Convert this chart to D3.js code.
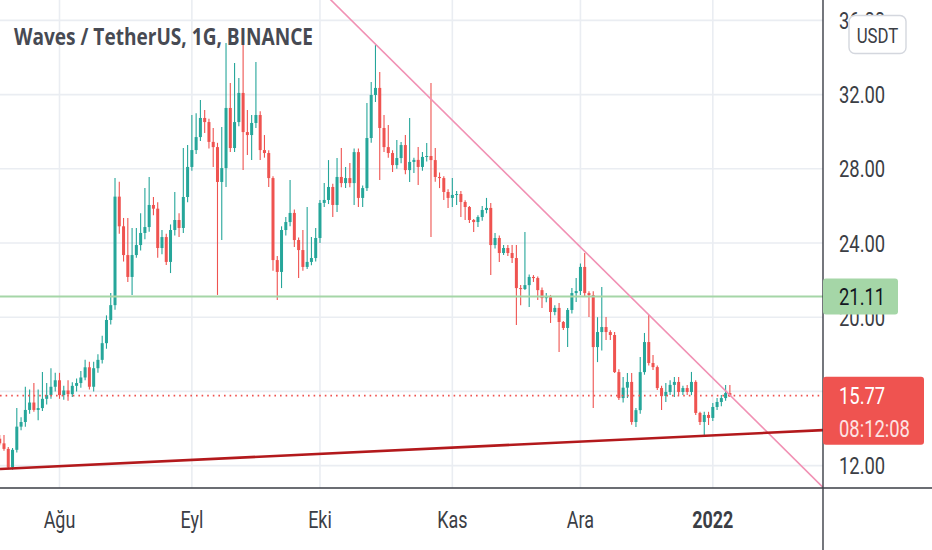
<!DOCTYPE html>
<html>
<head>
<meta charset="utf-8">
<script src="https://cdn.jsdelivr.net/npm/d3@7"></script>
<style>
  html, body { margin: 0; padding: 0; background: #ffffff; }
  svg { display: block; }
</style>
</head>
<body>
<div id="chart"></div>
<script>
// daily candles, Waves / TetherUS, starting 18 Jul 2021
const firstDay = "2021-07-18";
const opens = [
  13.45, 13.20, 12.90, 11.90, 12.85, 14.10, 14.35, 15.00, 15.40, 15.00, 15.10, 15.60, 15.80, 16.25,
  16.60, 15.80, 16.05, 15.85, 16.30, 16.45, 16.75, 17.30, 16.25, 17.25, 17.70, 18.60, 19.85, 20.65,
  26.50, 24.90, 23.35, 22.17, 23.35, 23.89, 24.54, 24.86, 26.05, 25.85, 23.73, 24.32, 22.98, 24.70,
  25.24, 24.81, 26.48, 28.10, 29.01, 29.71, 30.74, 30.52, 29.45, 29.17, 27.29, 28.04, 31.28, 29.12,
  30.52, 32.09, 29.98, 29.82, 30.47, 30.90, 29.01, 28.85, 27.50, 23.08, 22.44, 24.70, 25.13, 25.62,
  24.16, 23.62, 22.71, 22.98, 23.19, 24.27, 26.16, 26.32, 27.02, 26.05, 27.56, 27.23, 27.50, 27.23,
  28.90, 26.43, 26.96, 29.66, 31.98, 32.36, 30.20, 29.17, 28.85, 28.20, 28.58, 29.28, 27.93, 28.37,
  28.48, 28.10, 28.64, 28.69, 28.47, 27.56, 27.50, 26.75, 26.43, 26.59, 26.64, 26.21, 25.94, 25.24,
  25.13, 25.40, 25.78, 25.89, 23.89, 24.27, 23.46, 23.73, 23.46, 23.19, 21.57, 21.52, 21.73, 22.17,
  22.11, 21.46, 21.03, 21.08, 20.28, 20.50, 19.74, 19.42, 20.39, 21.30, 21.41, 22.71, 21.30, 21.19,
  18.39, 19.20, 19.47, 19.20, 19.04, 17.04, 15.64, 16.20, 16.51, 14.35, 14.99, 17.04, 18.66, 17.53,
  17.31, 16.18, 15.75, 15.97, 16.35, 16.51, 15.97, 16.18, 15.97, 16.51, 14.84, 14.35, 14.73, 14.57,
  15.16, 15.43, 15.64, 15.91
];
const highs = [
  13.65, 13.65, 13.00, 12.95, 15.10, 14.60, 16.25, 16.10, 16.45, 16.10, 17.05, 16.45, 17.25, 17.00,
  17.00, 16.30, 16.60, 16.50, 16.70, 17.10, 17.70, 17.60, 17.60, 18.00, 19.00, 20.10, 21.30, 27.50,
  27.30, 25.35, 25.35, 24.81, 24.81, 25.60, 26.96, 27.56, 26.48, 26.20, 24.70, 24.50, 25.00, 26.75,
  25.60, 29.12, 29.28, 30.90, 31.00, 31.71, 31.17, 30.70, 30.20, 29.40, 30.25, 34.78, 32.63, 33.70,
  32.90, 34.84, 31.17, 30.90, 33.76, 31.10, 29.82, 29.00, 27.60, 23.30, 24.90, 25.40, 27.40, 25.80,
  24.30, 24.70, 25.94, 24.32, 24.81, 26.32, 27.23, 28.47, 27.20, 28.58, 29.12, 28.10, 28.31, 29.10,
  29.10, 27.10, 31.55, 32.68, 34.67, 33.22, 30.90, 30.36, 29.00, 29.55, 29.44, 29.82, 30.74, 28.60,
  29.17, 28.90, 29.39, 32.63, 29.12, 27.80, 27.60, 26.90, 27.50, 26.80, 26.80, 26.30, 26.00, 25.30,
  25.50, 26.00, 26.43, 26.16, 24.54, 24.40, 23.89, 23.89, 23.89, 23.89, 21.73, 24.59, 22.30, 22.27,
  22.20, 21.60, 21.30, 21.20, 20.65, 20.77, 19.80, 20.50, 21.57, 22.11, 22.90, 23.46, 21.40, 21.40,
  20.00, 21.63, 20.01, 19.30, 19.20, 17.20, 16.78, 16.99, 16.99, 15.10, 17.85, 19.15, 20.12, 17.96,
  17.40, 16.30, 16.45, 16.60, 16.78, 16.78, 16.30, 16.35, 17.05, 16.60, 14.90, 14.90, 14.90, 15.37,
  15.64, 15.81, 16.35, 16.35
];
const lows = [
  13.10, 12.80, 11.80, 11.78, 12.70, 13.90, 14.10, 14.80, 14.90, 14.45, 14.95, 15.30, 15.60, 16.00,
  15.60, 15.55, 15.50, 15.70, 16.00, 16.20, 16.60, 16.10, 16.00, 17.00, 17.50, 18.30, 19.60, 20.40,
  24.50, 23.00, 21.90, 21.20, 23.20, 23.60, 24.20, 24.60, 25.50, 23.20, 23.40, 22.81, 22.38, 24.40,
  24.32, 24.54, 26.20, 27.90, 28.80, 29.50, 29.93, 29.10, 28.10, 21.20, 24.16, 27.02, 28.90, 28.90,
  30.30, 27.93, 28.74, 28.47, 30.20, 28.47, 28.60, 27.02, 22.50, 20.93, 21.57, 24.40, 24.90, 23.78,
  22.11, 22.50, 22.60, 22.80, 23.00, 24.00, 25.94, 26.10, 25.40, 25.67, 27.00, 26.96, 27.00, 26.05,
  25.94, 25.94, 26.80, 29.40, 31.60, 27.40, 28.90, 28.60, 27.83, 28.00, 28.30, 27.70, 27.29, 27.77,
  27.13, 27.90, 28.40, 24.32, 27.30, 26.96, 26.32, 25.89, 25.94, 26.05, 25.40, 25.24, 25.08, 24.59,
  24.86, 25.20, 25.60, 22.27, 23.70, 22.98, 23.35, 23.30, 22.92, 19.58, 20.65, 21.46, 20.55, 21.90,
  20.93, 20.50, 20.80, 19.69, 20.10, 18.12, 19.31, 18.39, 20.20, 20.82, 21.20, 21.10, 20.01, 15.11,
  17.58, 18.20, 18.77, 18.77, 16.99, 15.54, 15.40, 15.64, 14.20, 14.08, 14.80, 16.90, 17.40, 17.15,
  16.08, 15.00, 15.43, 15.80, 15.70, 15.80, 15.80, 15.81, 15.80, 14.73, 14.19, 13.65, 14.19, 14.40,
  15.00, 15.20, 15.50, 15.70
];
const closes = [
  13.20, 12.90, 11.90, 12.85, 14.10, 14.35, 15.00, 15.40, 15.00, 15.10, 15.60, 15.80, 16.25, 16.60,
  15.80, 16.05, 15.85, 16.30, 16.45, 16.75, 17.30, 16.25, 17.25, 17.70, 18.60, 19.85, 20.65, 26.50,
  24.90, 23.35, 22.17, 23.35, 23.89, 24.54, 24.86, 26.05, 25.85, 23.73, 24.32, 22.98, 24.70, 25.24,
  24.81, 26.48, 28.10, 29.01, 29.71, 30.74, 30.52, 29.45, 29.17, 27.29, 28.04, 31.28, 29.12, 30.52,
  32.09, 29.98, 29.82, 30.47, 30.90, 29.01, 28.85, 27.50, 23.08, 22.44, 24.70, 25.13, 25.62, 24.16,
  23.62, 22.71, 22.98, 23.19, 24.27, 26.16, 26.32, 27.02, 26.05, 27.56, 27.23, 27.50, 27.23, 28.90,
  26.43, 26.96, 29.66, 31.98, 32.36, 30.20, 29.17, 28.85, 28.20, 28.58, 29.28, 27.93, 28.37, 28.48,
  28.10, 28.64, 28.69, 28.47, 27.56, 27.50, 26.75, 26.43, 26.59, 26.64, 26.21, 25.94, 25.24, 25.13,
  25.40, 25.78, 25.89, 23.89, 24.27, 23.46, 23.73, 23.46, 23.19, 21.57, 21.52, 21.73, 22.17, 22.11,
  21.46, 21.03, 21.08, 20.28, 20.50, 19.74, 19.42, 20.39, 21.30, 21.41, 22.71, 21.30, 21.19, 18.39,
  19.20, 19.47, 19.20, 19.04, 17.04, 15.64, 16.20, 16.51, 14.35, 14.99, 17.04, 18.66, 17.53, 17.31,
  16.18, 15.75, 15.97, 16.35, 16.51, 15.97, 16.18, 15.97, 16.51, 14.84, 14.35, 14.73, 14.57, 15.16,
  15.43, 15.64, 15.91, 15.77
];

const priceTicks = [12, 16, 20, 24, 28, 32, 36];
const monthTicks = ["2021-08-01", "2021-09-01", "2021-10-01", "2021-11-01", "2021-12-01", "2022-01-01"];
const monthLabels = ["Ağu", "Eyl", "Eki", "Kas", "Ara", "2022"];

// drawn lines: support (dark red), resistance (pink), level, last price
const supportLine = [["2021-07-20", 11.84], ["2021-12-31", 13.62]];
const resistLine = [["2021-10-14", 34.72], ["2021-12-02", 23.55]];
const levelPrice = 21.11;
const lastPrice = 15.77;
const countdown = "08:12:08";

const width = 932, height = 550;
const plotW = 823, plotH = 488;
const up = "#26a69a", down = "#ef5350";

const parse = d3.utcParse("%Y-%m-%d");
const start = parse(firstDay);
const candles = closes.map((c, i) => ({
    date: d3.utcDay.offset(start, i),
    o: opens[i], h: highs[i], l: lows[i], c: c
}));

const x = d3.scaleUtc()
    .domain([parse("2021-08-01"), parse("2022-01-01")])
    .range([59.5, 712.8]);
const y = d3.scaleLinear()
    .domain([12, 32])
    .range([465.6, 94.6]);

const svg = d3.select("#chart").append("svg")
    .attr("width", width)
    .attr("height", height);

svg.append("defs").append("clipPath").attr("id", "plotClip")
    .append("rect").attr("width", plotW).attr("height", plotH);

// grid
const grid = svg.append("g");
grid.selectAll("line.h").data(priceTicks).join("line")
    .attr("x1", 0).attr("x2", plotW)
    .attr("y1", d => y(d)).attr("y2", d => y(d))
    .attr("stroke", "#eaedf2").attr("stroke-width", 1.6);
grid.selectAll("line.v").data(monthTicks).join("line")
    .attr("x1", d => x(parse(d))).attr("x2", d => x(parse(d)))
    .attr("y1", 0).attr("y2", plotH)
    .attr("stroke", "#eaedf2").attr("stroke-width", 1.6);

const plot = svg.append("g").attr("clip-path", "url(#plotClip)");

// candles
const bodyW = 3;
const cg = plot.append("g");
cg.selectAll("line").data(candles).join("line")
    .attr("x1", d => x(d.date)).attr("x2", d => x(d.date))
    .attr("y1", d => y(d.h)).attr("y2", d => y(d.l))
    .attr("stroke", d => d.c >= d.o ? up : down)
    .attr("stroke-width", 1.1);
cg.selectAll("rect").data(candles).join("rect")
    .attr("x", d => x(d.date) - bodyW / 2)
    .attr("width", bodyW)
    .attr("y", d => y(Math.max(d.o, d.c)))
    .attr("height", d => Math.max(1, Math.abs(y(d.o) - y(d.c))))
    .attr("fill", d => d.c >= d.o ? up : down);

// horizontal level and last price
plot.append("line")
    .attr("x1", 0).attr("x2", plotW)
    .attr("y1", y(levelPrice)).attr("y2", y(levelPrice))
    .attr("stroke", "#a5d6a7").attr("stroke-width", 2);
plot.append("line")
    .attr("x1", 0).attr("x2", plotW)
    .attr("y1", y(lastPrice)).attr("y2", y(lastPrice))
    .attr("stroke", down).attr("stroke-width", 1.6)
    .attr("stroke-dasharray", "1.6,4");

// trend lines extended over the whole pane
function extended(pts) {
    const x1 = x(parse(pts[0][0])), y1 = y(pts[0][1]);
    const x2 = x(parse(pts[1][0])), y2 = y(pts[1][1]);
    const k = (y2 - y1) / (x2 - x1);
    return [[0, y1 - k * x1], [plotW, y1 + k * (plotW - x1)]];
}
plot.append("path")
    .attr("d", d3.line()(extended(resistLine)))
    .attr("stroke", "#f191b4").attr("stroke-width", 1.6).attr("fill", "none");
plot.append("path")
    .attr("d", d3.line()(extended(supportLine)))
    .attr("stroke", "#b3191c").attr("stroke-width", 2.6).attr("fill", "none");

// axes lines
svg.append("line").attr("x1", 0).attr("x2", width).attr("y1", plotH).attr("y2", plotH)
    .attr("stroke", "#3a3d45").attr("stroke-width", 1.4);
svg.append("line").attr("x1", plotW).attr("x2", plotW).attr("y1", 0).attr("y2", height)
    .attr("stroke", "#3a3d45").attr("stroke-width", 1.4);

// narrow glyphs like the screenshot
function squeeze(sel, k) {
    sel.each(function () {
        const w = this.getComputedTextLength();
        d3.select(this).attr("textLength", w * k).attr("lengthAdjust", "spacingAndGlyphs");
    });
}

// price labels (16.00 sits fully under the last-price tag, so it is not drawn)
const pl = svg.append("g")
    .attr("font-family", "Roboto, 'Noto Sans', sans-serif")
    .attr("font-size", 23)
    .attr("fill", "#3b3e45");
pl.selectAll("text").data(priceTicks.filter(d => Math.abs(y(d) - y(lastPrice)) > 20)).join("text")
    .attr("x", 839)
    .attr("y", d => y(d) + 8.5)
    .text(d => d3.format(".2f")(d))
    .call(squeeze, 0.8);

// time labels
svg.append("g")
    .attr("font-family", "Roboto, 'Noto Sans', sans-serif")
    .attr("font-size", 23)
    .attr("fill", "#3b3e45")
    .attr("text-anchor", "middle")
    .selectAll("text").data(monthTicks).join("text")
    .attr("x", d => x(parse(d)))
    .attr("y", 528)
    .attr("font-weight", (d, i) => monthLabels[i] === "2022" ? 700 : 400)
    .text((d, i) => monthLabels[i])
    .call(squeeze, 0.78);

// currency button
svg.append("rect")
    .attr("x", 849).attr("y", 15.5).attr("width", 57).attr("height", 38).attr("rx", 6)
    .attr("fill", "#ffffff").attr("stroke", "#d4d7de").attr("stroke-width", 1.4);
svg.append("text")
    .attr("x", 877.5).attr("y", 43)
    .attr("text-anchor", "middle")
    .attr("font-family", "Roboto, sans-serif").attr("font-size", 21)
    .attr("fill", "#3b3e45")
    .text("USDT")
    .call(squeeze, 0.8);

// level label
const ly = y(levelPrice);
svg.append("rect")
    .attr("x", plotW).attr("y", ly - 18).attr("width", 75).attr("height", 36).attr("rx", 3)
    .attr("fill", "#a5d6a7");
svg.append("text")
    .attr("x", 839).attr("y", ly + 8.5)
    .attr("font-family", "Roboto, sans-serif").attr("font-size", 23)
    .attr("fill", "#131722")
    .text(d3.format(".2f")(levelPrice))
    .call(squeeze, 0.8);

// last price label
const lpy = y(lastPrice);
svg.append("rect")
    .attr("x", plotW).attr("y", lpy - 19).attr("width", 101).attr("height", 68).attr("rx", 3)
    .attr("fill", "#ef5350");
const lt = svg.append("g")
    .attr("font-family", "Roboto, sans-serif").attr("font-size", 23)
    .attr("fill", "#ffffff");
lt.append("text").attr("x", 839).attr("y", lpy + 8.5)
    .text(d3.format(".2f")(lastPrice)).call(squeeze, 0.8);
lt.append("text").attr("x", 839).attr("y", lpy + 41)
    .attr("fill", "#fde3e3")
    .text(countdown).call(squeeze, 0.8);

// title
svg.append("text")
    .attr("x", 14).attr("y", 45)
    .attr("font-family", "'Open Sans', 'Noto Sans', sans-serif")
    .attr("font-size", 23)
    .attr("font-weight", 700)
    .attr("fill", "#474a53")
    .attr("textLength", 299)
    .attr("lengthAdjust", "spacingAndGlyphs")
    .text("Waves / TetherUS, 1G, BINANCE");
</script>
</body>
</html>
